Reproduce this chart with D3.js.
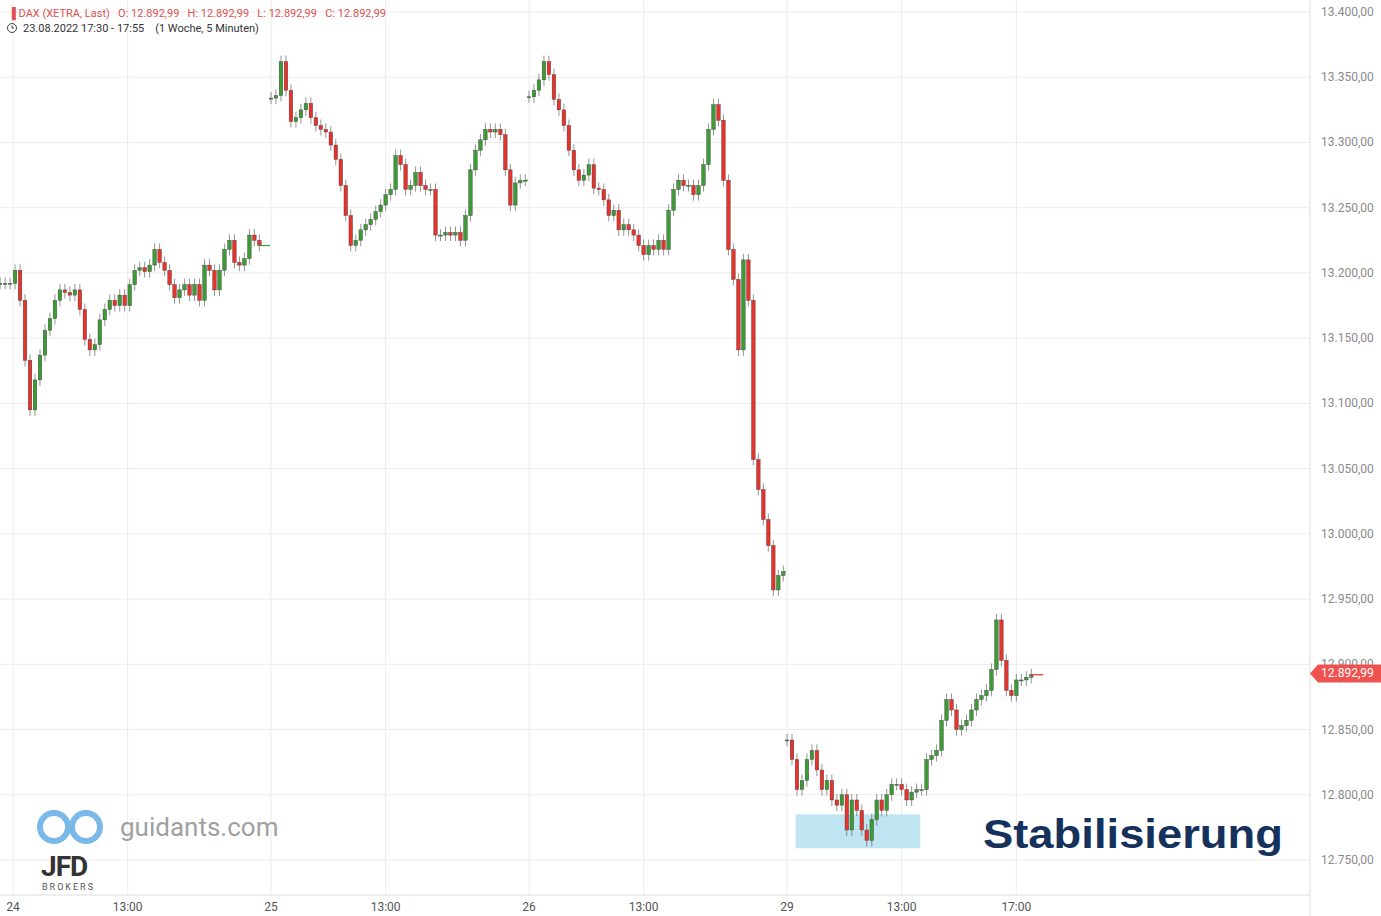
<!DOCTYPE html>
<html><head><meta charset="utf-8">
<script src="https://d3js.org/d3.v7.min.js"></script>
<style>body{margin:0;background:#fff;font-family:Roboto,Arial,sans-serif} text{white-space:pre}</style>
</head><body><svg id="c" width="1381" height="916"></svg>
<script>
const dayLabels = ["24","25","26","29"];
const dayStartHour = [8.55, 9, 9, 9];
const day24 = [13192,13192,13192,13202,13179,13133,13095,13118,13137,13156,13165,13179,13187,13185,13183,13187,13172,13149,13141,13145,13164,13172,13179,13175,13183,13175,13191,13202,13204,13201,13206,13218,13208,13202,13191,13181,13187,13191,13183,13191,13179,13206,13202,13187,13202,13218,13225,13208,13206,13211,13229,13225,13221];
const day25 = [13334,13336,13362,13340,13316,13319,13325,13330,13319,13313,13310,13308,13298,13287,13267,13244,13221,13225,13233,13237,13241,13247,13252,13260,13264,13290,13283,13264,13267,13277,13267,13264,13264,13229,13229,13231,13229,13231,13225,13244,13279,13294,13302,13310,13308,13310,13306,13279,13252,13269,13271,13271];
const day26 = [13335,13340,13348,13362,13352,13333,13325,13313,13294,13279,13271,13275,13283,13265,13264,13256,13244,13248,13233,13237,13233,13229,13221,13214,13221,13218,13225,13218,13248,13264,13271,13267,13267,13260,13267,13283,13310,13329,13317,13271,13218,13195,13141,13210,13179,13057,13034,13011,12991,12957,12968,12971];
const day29 = [12842,12827,12804,12811,12827,12834,12819,12804,12811,12796,12792,12800,12773,12796,12788,12773,12765,12781,12796,12788,12800,12808,12808,12804,12796,12802,12804,12804,12827,12830,12834,12857,12873,12865,12850,12853,12857,12865,12873,12876,12880,12896,12934,12903,12880,12876,12888,12888,12890,12892];
const days = [day24, day25, day26, day29];
const yTicks = [12750,12800,12850,12900,12950,13000,13050,13100,13150,13200,13250,13300,13350,13400];
const xTicks = [["24",0,9],["13:00",0,13],["25",1,9],["13:00",1,13],["26",2,9],["13:00",2,13],["29",3,9],["13:00",3,13],["17:00",3,17]];
const lastPrice = 12892.99;
const box = [[3,9.3],[3,13.65],[12785,12759]];

const DAY = 9, STEP = 5/28.75;
const svg = d3.select("#c");
const y = d3.scaleLinear().domain([12750,13400]).range([860,12]);
const x = d3.scaleLinear().domain([0,DAY]).range([13,271]);
const pos = (d,h) => x(d*DAY + h - 9);
const fmt = v => d3.format(",.2f")(v).replace(/,/g,"#").replace(".",",").replace(/#/g,".");

svg.selectAll(".hg").data(yTicks).join("line").attr("x1",0).attr("x2",1310)
  .attr("y1",d=>y(d)).attr("y2",d=>y(d)).attr("stroke","#ececec");
svg.selectAll(".vg").data(xTicks).join("line").attr("y1",0).attr("y2",895)
  .attr("x1",d=>pos(d[1],d[2])).attr("x2",d=>pos(d[1],d[2])).attr("stroke","#ececec");
svg.append("line").attr("x1",1310).attr("x2",1310).attr("y1",0).attr("y2",916).attr("stroke","#ddd");
svg.append("line").attr("x1",0).attr("x2",1310).attr("y1",895).attr("y2",895).attr("stroke","#ddd");
svg.selectAll(".yl").data(yTicks).join("text").attr("x",1321).attr("y",d=>y(d)+4)
  .attr("font-size",12).attr("fill","#8a8a8a").text(fmt);
svg.selectAll(".xl").data(xTicks).join("text").attr("x",d=>pos(d[1],d[2])).attr("y",911)
  .attr("text-anchor","middle").attr("font-size",12).attr("fill","#555").text(d=>d[0]);

svg.append("rect").attr("x",pos(box[0][0],box[0][1])).attr("width",pos(box[1][0],box[1][1])-pos(box[0][0],box[0][1]))
  .attr("y",y(box[2][0])).attr("height",y(box[2][1])-y(box[2][0])).attr("fill","#bfe5f3");

days.forEach((arr,d)=>{
  const g = svg.append("g");
  arr.forEach((c,i)=>{
    const o = i===0 ? c : arr[i-1];
    const cx = pos(d, dayStartHour[d] + i*STEP);
    const top = y(Math.max(o,c)), bot = y(Math.min(o,c));
    const up = c>=o;
    g.append("line").attr("x1",cx).attr("x2",cx).attr("y1",top-6).attr("y2",bot+6).attr("stroke","#666").attr("stroke-width",0.7);
    g.append("rect").attr("x",cx-1.8).attr("width",3.6).attr("y",top).attr("height",Math.max(1,bot-top))
      .attr("fill",up?"#3d9b35":"#e8322c").attr("stroke","#3a3a3a").attr("stroke-width",0.4);
  });
  const lastX = pos(d, dayStartHour[d] + (arr.length-1)*STEP);
  const endX = d===3 ? lastX+12 : pos(d+1,9)-1;
  svg.append("line").attr("x1",lastX).attr("x2",endX).attr("y1",y(arr[arr.length-1])).attr("y2",y(arr[arr.length-1]))
    .attr("stroke",d===3?"#e8322c":"#3d9b35").attr("stroke-width",1.2);
});

const ly = y(lastPrice);
svg.append("path").attr("d",`M1310,${ly} L1318,${ly-9} L1381,${ly-9} L1381,${ly+9} L1318,${ly+9} Z`).attr("fill","#ef5350");
svg.append("text").attr("x",1321).attr("y",ly+4).attr("font-size",12).attr("fill","#fff").text(fmt(lastPrice));

svg.append("text").attr("x",8).attr("y",17).attr("font-size",11).attr("fill","#e05050")
  .text("\u2590 DAX (XETRA, Last)   O: 12.892,99   H: 12.892,99   L: 12.892,99   C: 12.892,99");
svg.append("circle").attr("cx",12).attr("cy",28).attr("r",4.5).attr("fill","none").attr("stroke","#444");
svg.append("path").attr("d","M12,25.5 L12,28 L14,28").attr("stroke","#444").attr("fill","none");
svg.append("text").attr("x",23).attr("y",32).attr("font-size",11).attr("fill","#333")
  .text("23.08.2022 17:30 - 17:55    (1 Woche, 5 Minuten)");

const lg = svg.append("g").attr("fill","none").attr("stroke","#7ab8e8").attr("stroke-width",6);
lg.append("circle").attr("cx",54).attr("cy",827).attr("r",14);
lg.append("circle").attr("cx",86).attr("cy",827).attr("r",14);
svg.append("text").attr("x",120).attr("y",836).attr("font-size",26).attr("fill","#a0a0a0").text("guidants.com");
svg.append("text").attr("x",41).attr("y",876).attr("font-size",28).attr("font-weight","bold").attr("fill","#333").attr("letter-spacing",-1).text("JFD");
svg.append("text").attr("x",42).attr("y",890).attr("font-size",9).attr("fill","#555").attr("letter-spacing",2).text("BROKERS");

svg.append("text").attr("x",983).attr("y",848).attr("font-size",40).attr("font-weight",900)
  .attr("font-family","Liberation Sans, Arial").attr("fill","#15325d")
  .attr("textLength",300).attr("lengthAdjust","spacingAndGlyphs").text("Stabilisierung");
</script></body></html>
